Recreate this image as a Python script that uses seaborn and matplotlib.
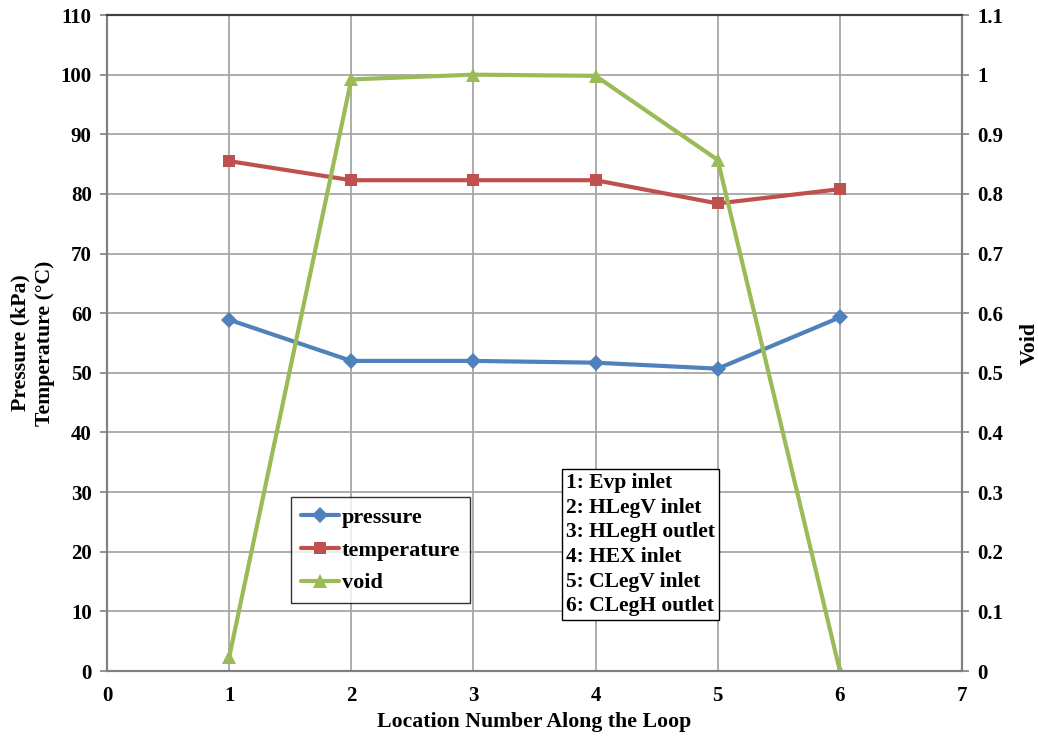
import numpy as np
import pandas as pd
import seaborn as sns
import matplotlib.pyplot as plt

## values
location = [1, 2, 3, 4, 5, 6]
pressure = [58.9, 52.0, 52.0, 51.7, 50.7, 59.3]
temperature = [85.5, 82.3, 82.3, 82.3, 78.4, 80.8]
void = [0.023, 0.992, 1.0, 0.998, 0.857, 0.0]
station_labels = ["1: Evp inlet", "2: HLegV inlet", "3: HLegH outlet",
                  "4: HEX inlet", "5: CLegV inlet", "6: CLegH outlet"]

sns.set_style("white")
plt.rcParams['font.family'] = ['Liberation Serif', 'DejaVu Serif']
plt.rcParams['font.weight'] = 'bold'
plt.rcParams['text.color'] = 'black'
plt.rcParams['axes.labelcolor'] = 'black'
plt.rcParams['xtick.labelcolor'] = 'black'
plt.rcParams['ytick.labelcolor'] = 'black'

df = pd.DataFrame({"loc": location, "pressure": pressure,
                   "temperature": temperature, "void": void})

fig = plt.figure(figsize=(10.38, 7.36), dpi=100)
ax = fig.add_axes([0.1031, 0.0883, 0.8237, 0.8913])
ax2 = ax.twinx()

c_p, c_t, c_v = "#4F81BD", "#C0504D", "#9BBB59"
sns.lineplot(data=df, x="loc", y="pressure", ax=ax, color=c_p, lw=3,
             marker="D", markersize=8, markeredgewidth=0, label="pressure", legend=False)
sns.lineplot(data=df, x="loc", y="temperature", ax=ax, color=c_t, lw=3,
             marker="s", markersize=8, markeredgewidth=0, label="temperature", legend=False)
sns.lineplot(data=df, x="loc", y="void", ax=ax2, color=c_v, lw=3,
             marker="^", markersize=10, markeredgewidth=0, label="void", legend=False)

ax.set_xlim(0, 7)
ax.set_ylim(0, 110)
ax.set_xticks(range(0, 8))
ax.set_yticks(range(0, 111, 10))
ax2.set_ylim(0, 1.1)
ax2.set_yticks(np.arange(0, 1.11, 0.1))
ax2.set_yticklabels(["0", "0.1", "0.2", "0.3", "0.4", "0.5", "0.6", "0.7",
                     "0.8", "0.9", "1", "1.1"])

ax.grid(True, color="#a6a6a6", lw=1.3)
ax.set_axisbelow(True)
for a in (ax, ax2):
    for s in a.spines.values():
        s.set_color("#808080")
        s.set_linewidth(1.5)
    a.spines["top"].set_color("#404040")
    a.tick_params(axis="both", direction="out", length=5, width=1.2, color="#808080",
                  labelsize=15, pad=6)
for lab in ax.get_xticklabels() + ax.get_yticklabels() + ax2.get_yticklabels():
    lab.set_fontweight("bold")

ax.set_xlabel("Location Number Along the Loop", fontsize=15.7, fontweight="bold", labelpad=4)
ax.set_ylabel("Pressure (kPa)\nTemperature (°C)", fontsize=15.7, fontweight="bold",
              labelpad=4, linespacing=1.28)
ax2.set_ylabel("Void", fontsize=15.7, fontweight="bold", labelpad=12)

h1, l1 = ax.get_legend_handles_labels()
h2, l2 = ax2.get_legend_handles_labels()
leg = ax2.legend(h1 + h2, l1 + l2, loc="upper left", bbox_to_anchor=(0.215, 0.265),
                 borderaxespad=0, frameon=True, fancybox=False, edgecolor="black",
                 handlelength=1.7, handletextpad=0.15, labelspacing=0.55,
                 borderpad=0.45, prop={"weight": "bold", "size": 16})
leg.get_frame().set_linewidth(1.0)

ax2.text(0.537, 0.302, "\n".join(station_labels), transform=ax2.transAxes,
         fontsize=15.5, fontweight="bold", va="top", ha="left", linespacing=1.31,
         bbox=dict(boxstyle="square,pad=0.2", fc="white", ec="black", lw=1.0))

fig.savefig("out.png", dpi=100)
